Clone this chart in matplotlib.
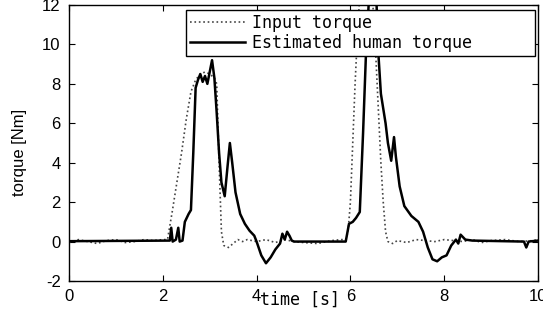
import matplotlib
matplotlib.use("Agg")
import matplotlib.pyplot as plt

plt.rcParams['axes.unicode_minus'] = False

# input torque (dotted)
t_in = [0.0, 0.2, 0.4, 0.6, 0.8, 1.0, 1.2, 1.4, 1.6, 1.8, 2.0, 2.1,
        2.2, 2.3, 2.4, 2.5, 2.6, 2.7, 2.8, 2.9, 3.0, 3.1, 3.15, 3.2,
        3.25, 3.3, 3.4, 3.5, 3.6, 3.7, 3.8, 3.9, 4.0, 4.2, 4.4, 4.6,
        4.8, 5.0, 5.3, 5.6, 5.8, 5.9, 5.95, 6.0, 6.05, 6.1, 6.15, 6.2,
        6.45, 6.5, 6.55, 6.6, 6.65, 6.7, 6.75, 6.8, 6.9, 7.0, 7.2,
        7.4, 7.6, 7.8, 8.0, 8.2, 8.4, 8.6, 8.8, 9.0, 9.3, 9.6, 9.9, 10.0]
v_in = [-0.05, 0.1, 0.0, -0.1, 0.05, 0.1, -0.05, 0.0, 0.1, 0.05, 0.1, 0.1,
        1.5, 3.0, 4.5, 6.2, 7.6, 8.2, 8.5, 8.6, 8.5, 8.3, 8.0, 4.0,
        0.5, -0.2, -0.3, -0.1, 0.1, 0.0, 0.1, 0.05, 0.0, 0.1, -0.05, 0.1,
        0.0, -0.05, -0.1, 0.05, 0.1, 0.1, 0.5, 2.0, 5.0, 8.0, 10.5, 12.5,
        12.5, 11.5, 9.0, 6.5, 4.0, 2.0, 0.5, 0.0, -0.1, 0.05, -0.05,
        0.1, 0.05, 0.0, 0.1, 0.05, 0.0, 0.1, -0.05, 0.05, 0.1, 0.0, 0.05, 0.1]

# estimated human torque (solid)
t_est = [0.0, 2.15, 2.18, 2.21, 2.28, 2.33, 2.36, 2.42, 2.47, 2.55, 2.6,
         2.65, 2.7, 2.75, 2.8, 2.85, 2.9, 2.95, 3.0, 3.05, 3.1, 3.15,
         3.2, 3.25, 3.32, 3.38, 3.43, 3.48, 3.55, 3.65, 3.75, 3.85,
         3.95, 4.0, 4.1, 4.2, 4.3, 4.4, 4.5, 4.55, 4.6, 4.65, 4.7,
         4.75, 4.8, 5.9, 5.97, 6.05, 6.12, 6.2, 6.27, 6.33, 6.4, 6.55,
         6.6, 6.65, 6.75, 6.8, 6.87, 6.93, 6.97, 7.05, 7.15, 7.3, 7.45,
         7.55, 7.65, 7.75, 7.85, 7.95, 8.05, 8.15, 8.25, 8.3, 8.35,
         8.45, 8.6, 9.7, 9.75, 9.8, 10.0]
v_est = [0.02, 0.05, 0.7, 0.0, 0.1, 0.7, 0.0, 0.05, 1.0, 1.4, 1.6,
         4.5, 7.8, 8.2, 8.5, 8.1, 8.4, 8.0, 8.6, 9.2, 8.3, 6.5,
         4.5, 3.0, 2.3, 3.8, 5.0, 4.0, 2.5, 1.4, 0.9, 0.55,
         0.3, 0.0, -0.7, -1.1, -0.8, -0.4, -0.1, 0.4, 0.1, 0.5, 0.3,
         0.05, 0.0, 0.0, 0.9, 1.0, 1.2, 1.5, 5.5, 9.4, 12.5, 12.5,
         9.4, 7.5, 6.0, 5.0, 4.1, 5.3, 4.3, 2.8, 1.8, 1.3, 1.0,
         0.5, -0.3, -0.9, -1.0, -0.8, -0.7, -0.2, 0.1, -0.1, 0.35,
         0.1, 0.05, 0.0, -0.3, 0.0, 0.05]

fig = plt.figure(figsize=(5.43, 3.21), dpi=100)
ax = fig.add_axes([69/543, 40/321, 469/543, 276/321])

ax.plot(t_in, v_in, color='#444444', linestyle=':', linewidth=1.2, label='Input torque')
ax.plot(t_est, v_est, color='black', linewidth=1.8, label='Estimated human torque')

ax.set_xlim(0, 10)
ax.set_ylim(-2, 12)
ax.set_xticks([0, 2, 4, 6, 8, 10])
ax.set_yticks([-2, 0, 2, 4, 6, 8, 10, 12])
ax.tick_params(direction='in', length=4, top=True, right=True, width=0.8,
               labelsize=12, pad=6)
for lab in ax.get_xticklabels() + ax.get_yticklabels():
    lab.set_family('Liberation Sans')
for s in ax.spines.values():
    s.set_linewidth(1.0)

fig.text(300/543, 1 - 300/321, 'time [s]', family='DejaVu Sans Mono',
         fontsize=12, ha='center', va='center')
fig.text(20/543, 1 - 152/321, 'torque [Nm]', family='Liberation Sans',
         fontsize=12, rotation=90, ha='center', va='center')

# legend box stretched to the width seen in the reference
leg = ax.legend(loc='upper left', mode='expand',
                bbox_to_anchor=(186/543, 1 - 56/321, 349/543, 46/321),
                bbox_transform=fig.transFigure, borderaxespad=0,
                prop={'family': 'DejaVu Sans Mono', 'size': 12},
                fancybox=False, framealpha=1, edgecolor='black',
                handlelength=3.3, handletextpad=0.4, labelspacing=0.1,
                borderpad=0.25)
leg.get_frame().set_linewidth(1.0)

fig.savefig('out.png', dpi=100)
